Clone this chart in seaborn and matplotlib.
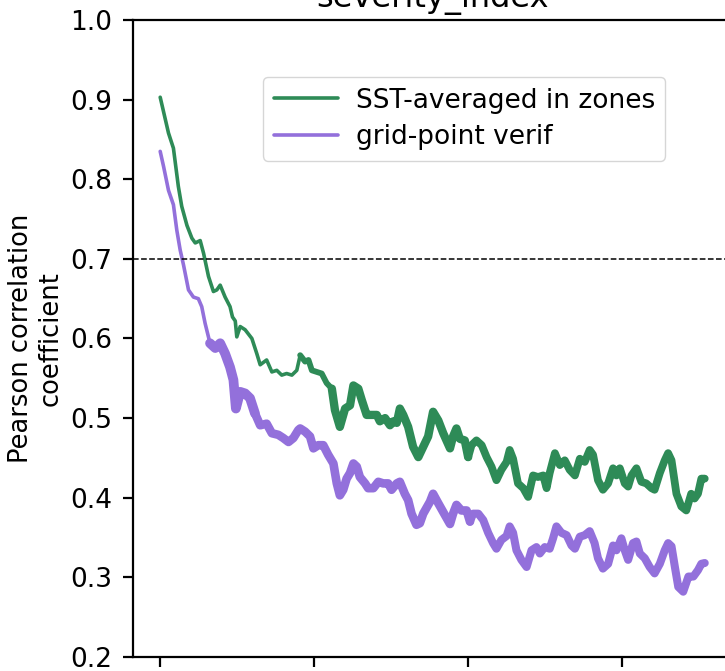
import numpy as np
import pandas as pd
import seaborn as sns
import matplotlib
matplotlib.use("Agg")
import matplotlib.pyplot as plt

# lead time (days) and correlation
zones_lead = [0.0, 2.7, 4.3, 5.9, 7.0, 8.7, 10.3, 11.4, 13.0, 14.1, 15.7, 17.3, 18.4, 19.5,
              21.1, 22.7, 23.5, 24.4, 24.9, 26.0, 27.6, 29.8, 31.4, 32.5, 34.6, 36.3, 37.9,
              39.5, 41.1, 42.8, 44.4, 45.5, 47.1, 48.2, 49.3, 50.9, 52.5, 54.1, 55.8, 56.8,
              58.4, 60.1, 61.7, 62.8, 64.4, 65.5, 67.1, 68.7, 70.4, 71.4, 73.1, 74.7, 75.8,
              76.9, 77.9, 79.0, 80.6, 82.2, 83.9, 85.5, 87.1, 88.7, 90.4, 92.0, 94.2, 95.2,
              96.3, 97.4, 99.0, 100.1, 101.2, 102.8, 104.5, 106.1, 107.7, 109.3, 110.9, 112.6,
              113.6, 114.7, 116.3, 118.0, 119.6, 121.2, 122.8, 124.5, 125.6, 126.6, 128.3,
              129.9, 131.5, 133.1, 134.8, 136.4, 138.0, 139.6, 140.7, 142.3, 143.9, 145.6,
              147.2, 148.3, 149.4, 151.0, 152.1, 153.2, 154.8, 156.4, 158.0, 159.7, 160.7,
              162.4, 164.0, 165.1, 166.2, 167.8, 169.4, 171.0, 172.6, 173.7, 174.8, 175.9, 177.0]
zones_corr = [0.903, 0.858, 0.839, 0.791, 0.766, 0.742, 0.726, 0.720, 0.723, 0.707, 0.678,
              0.659, 0.661, 0.667, 0.652, 0.640, 0.627, 0.622, 0.602, 0.615, 0.611, 0.600,
              0.581, 0.567, 0.573, 0.558, 0.560, 0.554, 0.556, 0.554, 0.560, 0.579, 0.571,
              0.573, 0.560, 0.558, 0.556, 0.544, 0.537, 0.510, 0.489, 0.512, 0.516, 0.541,
              0.537, 0.523, 0.504, 0.504, 0.504, 0.496, 0.500, 0.491, 0.496, 0.494, 0.512,
              0.504, 0.489, 0.464, 0.451, 0.464, 0.477, 0.508, 0.497, 0.481, 0.462, 0.477,
              0.487, 0.474, 0.472, 0.451, 0.466, 0.472, 0.466, 0.451, 0.439, 0.422, 0.435,
              0.445, 0.460, 0.449, 0.418, 0.412, 0.401, 0.428, 0.426, 0.428, 0.412, 0.431,
              0.456, 0.441, 0.447, 0.435, 0.428, 0.449, 0.445, 0.460, 0.454, 0.422, 0.410,
              0.418, 0.437, 0.428, 0.437, 0.418, 0.414, 0.428, 0.437, 0.420, 0.418, 0.412,
              0.410, 0.431, 0.447, 0.456, 0.447, 0.405, 0.389, 0.384, 0.405, 0.399, 0.405,
              0.424, 0.424]

grid_lead = [0.0, 1.1, 2.7, 4.3, 5.4, 6.5, 7.6, 9.2, 10.8, 12.4, 13.5, 14.6, 16.2, 17.9,
             19.5, 21.1, 22.7, 23.8, 24.6, 26.0, 27.6, 29.2, 30.8, 32.5, 34.6, 36.3, 38.4,
             40.0, 41.7, 43.3, 44.9, 45.5, 47.1, 48.7, 49.8, 51.4, 53.0, 54.6, 56.3, 57.4,
             58.4, 59.5, 60.6, 61.7, 62.8, 63.9, 64.9, 66.6, 67.6, 69.3, 70.9, 72.5, 74.1,
             75.2, 76.9, 77.9, 79.5, 80.6, 81.7, 83.3, 84.4, 85.5, 87.7, 88.7, 90.4, 92.0,
             94.2, 95.2, 96.3, 97.9, 99.6, 100.7, 101.7, 103.4, 105.0, 106.6, 108.2, 109.3,
             110.9, 112.6, 113.6, 114.7, 115.8, 117.4, 119.1, 120.7, 122.3, 123.4, 125.0,
             126.6, 127.7, 128.8, 130.4, 132.1, 133.7, 134.8, 136.4, 138.0, 139.6, 141.2,
             142.3, 143.9, 145.6, 147.2, 148.3, 149.9, 151.0, 152.1, 153.7, 154.8, 155.9,
             157.5, 159.1, 160.7, 162.4, 164.0, 165.1, 166.2, 167.3, 168.4, 170.0, 171.7,
             173.3, 174.8, 175.9, 177.0]
grid_corr = [0.835, 0.816, 0.786, 0.768, 0.736, 0.711, 0.692, 0.661, 0.652, 0.650, 0.640,
             0.619, 0.594, 0.588, 0.594, 0.581, 0.564, 0.548, 0.512, 0.533, 0.531, 0.525,
             0.506, 0.491, 0.493, 0.481, 0.479, 0.475, 0.470, 0.475, 0.485, 0.487, 0.483,
             0.477, 0.462, 0.466, 0.466, 0.454, 0.443, 0.418, 0.403, 0.410, 0.424, 0.431,
             0.443, 0.439, 0.426, 0.418, 0.412, 0.412, 0.420, 0.418, 0.418, 0.410, 0.418,
             0.420, 0.405, 0.397, 0.380, 0.366, 0.368, 0.380, 0.395, 0.405, 0.393, 0.382,
             0.367, 0.380, 0.391, 0.384, 0.384, 0.370, 0.380, 0.380, 0.372, 0.356, 0.343,
             0.336, 0.347, 0.352, 0.364, 0.356, 0.334, 0.322, 0.313, 0.334, 0.338, 0.330,
             0.338, 0.336, 0.349, 0.364, 0.356, 0.353, 0.340, 0.336, 0.351, 0.353, 0.358,
             0.343, 0.324, 0.311, 0.317, 0.340, 0.334, 0.349, 0.334, 0.322, 0.343, 0.345,
             0.330, 0.324, 0.313, 0.305, 0.317, 0.334, 0.343, 0.339, 0.313, 0.288, 0.282,
             0.301, 0.301, 0.309, 0.317, 0.318]

labels = ["SST-averaged in zones", "grid-point verif"]
x_ticks = [0, 50, 100, 150]
y_ticks = [0.2, 0.3, 0.4, 0.5, 0.6, 0.7, 0.8, 0.9, 1.0]

# line gets thicker along the lead axis: (start, end, width in pt)
zones_widths = [(0, 45.5, 2.6), (45.5, 55.8, 4.2), (55.8, 100.1, 6.0), (100.1, 177, 5.6)]
grid_widths = [(0, 16.2, 2.6), (16.2, 30.8, 7.0), (30.8, 100.7, 6.2), (100.7, 177, 5.8)]

sns.set_style("ticks")
plt.rcParams.update({
    "font.family": ["DejaVu Sans"],
    "font.size": 19,
    "axes.edgecolor": "black",
    "axes.linewidth": 1.6,
    "xtick.color": "black",
    "ytick.color": "black",
    "text.color": "black",
    "axes.labelcolor": "black",
})

fig = plt.figure(figsize=(7.25, 6.71), dpi=100)
ax = fig.add_axes([0.1834, 0.0209, 0.8262, 0.9493])

series = [
    (zones_lead, zones_corr, zones_widths, "seagreen", labels[0]),
    (grid_lead, grid_corr, grid_widths, "mediumpurple", labels[1]),
]
for lead, corr, widths, color, label in series:
    df = pd.DataFrame({"lead": lead, "corr": corr})
    for i, (lo, hi, lw) in enumerate(widths):
        part = df[(df["lead"] >= lo) & (df["lead"] <= hi)]
        sns.lineplot(data=part, x="lead", y="corr", ax=ax, color=color,
                     linewidth=lw, sort=False, errorbar=None,
                     label=label if i == 0 else None)

ax.axhline(0.7, color="black", ls="--", lw=1.1)

ax.set_ylim(0.2, 1.0)
ax.set_yticks(y_ticks)
ax.set_xticks(x_ticks)
ax.set_xticklabels([])
ax.tick_params(length=7.2, width=1.6, pad=7.5, labelsize=19)
ax.set_xlabel("")
ax.set_ylabel("Pearson correlation\ncoefficient", fontsize=18.5, labelpad=5)
ax.set_title("severity_index", fontsize=23, pad=9)

ax.legend(loc="upper left", bbox_to_anchor=(0.217, 0.9105), borderaxespad=0,
          handlelength=2.46, handletextpad=0.65, labelspacing=0.4, fontsize=19)

fig.savefig("out.png", dpi=100)
